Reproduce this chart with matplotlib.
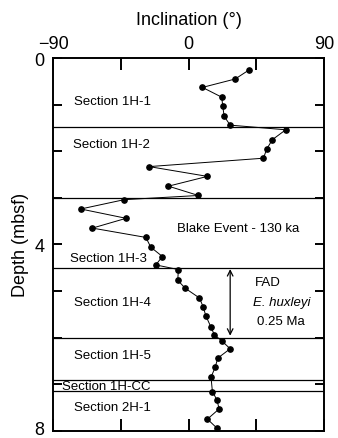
#!/usr/bin/env python3
"""Paleomagnetic inclination vs depth with core section boundaries."""

import matplotlib
matplotlib.use('Agg')
import matplotlib.pyplot as plt
from matplotlib.transforms import ScaledTranslation

plt.rcParams['font.family'] = ['Liberation Sans', 'DejaVu Sans']

# inclination (degrees) and depth (mbsf) of each measurement
depth = [0.25, 0.45, 0.63, 0.84, 1.04, 1.25, 1.44, 1.54, 1.75, 1.95, 2.15,
         2.33, 2.54, 2.75, 2.95, 3.04, 3.24, 3.44, 3.65, 3.85, 4.06, 4.26,
         4.44, 4.54, 4.77, 4.94, 5.15, 5.35, 5.53, 5.78, 5.94, 6.07, 6.24,
         6.44, 6.64, 6.85, 7.16, 7.33, 7.53, 7.75, 7.94]
inclination = [40.4, 30.9, 9.2, 22.0, 22.7, 23.6, 27.6, 64.5, 55.7, 51.9, 49.7,
               -26.2, 12.5, -13.4, 6.5, -42.8, -71.6, -41.5, -63.9, -28.4, -25.1, -17.4,
               -21.8, -6.8, -7.2, -2.3, 7.2, 9.8, 11.4, 14.9, 17.1, 22.0, 27.6,
               19.4, 17.6, 14.9, 15.8, 18.7, 20.3, 12.5, 18.7]

# core section boundaries (mbsf)
section_tops = [1.48, 3.0, 4.5, 6.0, 6.91, 7.15]

section_names = ['Section 1H-1', 'Section 1H-2', 'Section 1H-3', 'Section 1H-4',
                 'Section 1H-5', 'Section 1H-CC', 'Section 2H-1']
section_label_depth = [0.92, 1.85, 4.29, 5.23, 6.37, 7.05, 7.5]
section_label_incl = [-50.5, -51.0, -53.4, -50.5, -50.5, -54.8, -50.3]

# FAD of E. huxleyi interval
fad_top, fad_bottom = 4.53, 5.96

fig = plt.figure(figsize=(3.38, 4.39), dpi=100)
ax = fig.add_axes([0.157, 0.0165, 0.802, 0.849])

ax.plot(inclination, depth, color='black', linewidth=0.7, marker='o',
        markersize=3.8, zorder=3)

for d in section_tops:
    ax.axhline(d, color='black', linewidth=0.9, zorder=2)

for name, d, x in zip(section_names, section_label_depth, section_label_incl):
    ax.text(x, d, name, fontsize=9.5, ha='center', va='center', zorder=1)

ax.text(32.6, 3.65, 'Blake Event - 130 ka', fontsize=9.5, ha='center', va='center')
ax.annotate('', xy=(27.6, fad_top), xytext=(27.6, fad_bottom),
            arrowprops=dict(arrowstyle='<->', color='black', lw=0.9,
                            shrinkA=0, shrinkB=0))
ax.text(52.8, 4.81, 'FAD', fontsize=9.5, ha='center', va='center')
ax.text(61.9, 5.23, 'E. huxleyi', fontsize=9.5, ha='center', va='center',
        style='italic')
ax.text(61.2, 5.64, '0.25 Ma', fontsize=9.5, ha='center', va='center')

ax.set_xlim(-90, 90)
ax.set_ylim(8, 0)
ax.xaxis.set_label_position('top')
ax.xaxis.tick_top()
ax.set_xticks([-90, -45, 0, 45, 90])
ax.set_xticklabels(['\u221290', '', '0', '', '90'])
ax.set_yticks([0, 1, 2, 3, 4, 5, 6, 7, 8])
ax.set_yticklabels(['0', '', '', '', '4', '', '', '', '8'])
ax.tick_params(axis='x', direction='in', top=True, bottom=True, length=8.5,
               width=1.4, labelsize=13, pad=4)
ax.tick_params(axis='y', direction='in', left=True, right=True, length=6.5,
               width=1.4, labelsize=13, pad=6)
ax.set_xlabel('Inclination (\u00b0)', fontsize=13, labelpad=8)
ax.set_ylabel('Depth (mbsf)', fontsize=13, labelpad=4)
for spine in ax.spines.values():
    spine.set_linewidth(1.4)

# keep the bottom depth label inside the figure edge
bottom_label = ax.get_yticklabels()[-1]
bottom_label.set_transform(bottom_label.get_transform()
                           + ScaledTranslation(0, 2 / 72, fig.dpi_scale_trans))

fig.savefig('out.png', dpi=100, facecolor='white')
